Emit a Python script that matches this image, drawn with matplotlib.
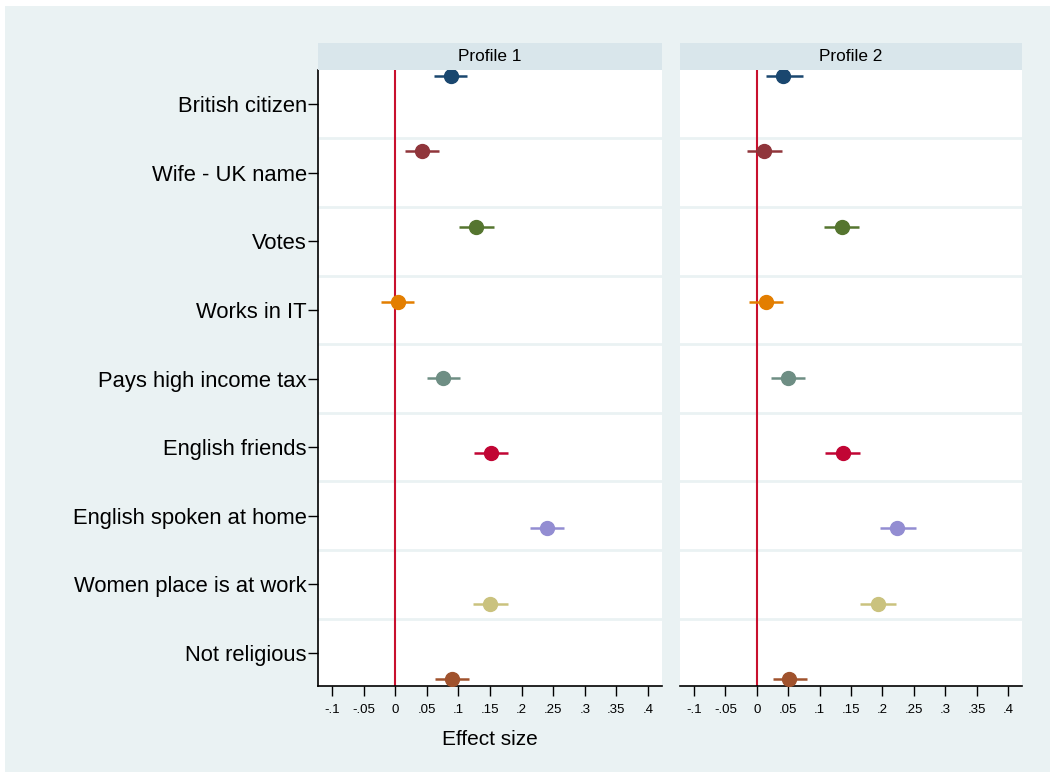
import numpy as np
import matplotlib
matplotlib.use('Agg')
import matplotlib.pyplot as plt
from matplotlib.patches import Rectangle

plt.rcParams['font.family'] = ['Liberation Sans', 'DejaVu Sans']

labels = ['British citizen', 'Wife - UK name', 'Votes', 'Works in IT',
          'Pays high income tax', 'English friends', 'English spoken at home',
          'Women place is at work', 'Not religious']
colors = ['#1a476f', '#90353b', '#55752f', '#e37e00', '#6e8e84',
          '#c10534', '#938dd2', '#cac27e', '#a0522d']

# profile 1
p1_est = [0.088, 0.042, 0.128, 0.004, 0.076, 0.152, 0.240, 0.150, 0.090]
p1_lo = [0.061, 0.015, 0.101, -0.022, 0.050, 0.125, 0.214, 0.123, 0.063]
p1_hi = [0.114, 0.070, 0.156, 0.030, 0.103, 0.179, 0.267, 0.178, 0.117]
# profile 2
p2_est = [0.042, 0.012, 0.136, 0.015, 0.050, 0.137, 0.224, 0.193, 0.052]
p2_lo = [0.014, -0.016, 0.107, -0.012, 0.023, 0.109, 0.196, 0.165, 0.026]
p2_hi = [0.073, 0.040, 0.163, 0.042, 0.077, 0.164, 0.253, 0.222, 0.080]

panels = ['Profile 1', 'Profile 2']
xticks = [-0.1, -0.05, 0, 0.05, 0.1, 0.15, 0.2, 0.25, 0.3, 0.35, 0.4]
xticklabels = ['-.1', '-.05', '0', '.05', '.1', '.15', '.2', '.25', '.3', '.35', '.4']

bg = '#eaf2f3'
W, H = 1050, 772
fig = plt.figure(figsize=(W / 100, H / 100), dpi=100)
fig.patch.set_facecolor('white')
fig.patches.append(Rectangle((5 / W, 0), 1 - 5 / W, 1 - 6 / H, transform=fig.transFigure,
                             facecolor=bg, edgecolor='none', zorder=-10))

ylab = np.arange(1, len(labels) + 1)
# coefplot puts the markers on a slightly wider spacing than the labels
ypts = np.linspace(0.59, 9.38, len(labels))

data = [(p1_est, p1_lo, p1_hi), (p2_est, p2_lo, p2_hi)]
lefts = [318, 680]
widths = [344, 342]
top, bot = 70, 686

for k in range(2):
    ax = fig.add_axes([lefts[k] / W, 1 - bot / H, widths[k] / W, (bot - top) / H])
    ax.set_facecolor('white')
    est, lo, hi = data[k]
    for i in range(len(labels)):
        ax.plot([lo[i], hi[i]], [ypts[i], ypts[i]], color=colors[i], lw=1.8,
                solid_capstyle='butt', zorder=3)
        ax.plot(est[i], ypts[i], 'o', color=colors[i], ms=10, zorder=4)
    ax.axvline(0, color='#c8102e', lw=1.5, zorder=2)
    for g in np.arange(1.5, 9, 1):
        ax.axhline(g, color=bg, lw=2, zorder=1)
    ax.set_xlim(-0.1 - 14 / 632, 0.4 + 14 / 632)
    ax.set_ylim(9.48, 0.504)
    ax.set_xticks(xticks)
    ax.set_xticklabels(xticklabels, fontsize=9.5)
    ax.tick_params(axis='x', length=7, width=1, pad=6)
    for s in ['top', 'right']:
        ax.spines[s].set_visible(False)
    ax.spines['bottom'].set_linewidth(1.2)
    if k == 0:
        ax.set_yticks(ylab)
        ax.set_yticklabels(labels, fontsize=15.8)
        ax.tick_params(axis='y', length=7, width=1, pad=1)
        ax.spines['left'].set_linewidth(1.2)
        ax.set_xlabel('Effect size', fontsize=15, labelpad=10)
    else:
        ax.set_yticks([])
        ax.spines['left'].set_visible(False)
    # strip header
    fig.patches.append(Rectangle((lefts[k] / W, 1 - 70 / H), widths[k] / W, 27 / H,
                                 transform=fig.transFigure, facecolor='#d9e6eb',
                                 edgecolor='none'))
    fig.text((lefts[k] + widths[k] / 2) / W, 1 - 56.5 / H, panels[k], fontsize=12.4,
             ha='center', va='center')

fig.savefig('out.png', dpi=100)
